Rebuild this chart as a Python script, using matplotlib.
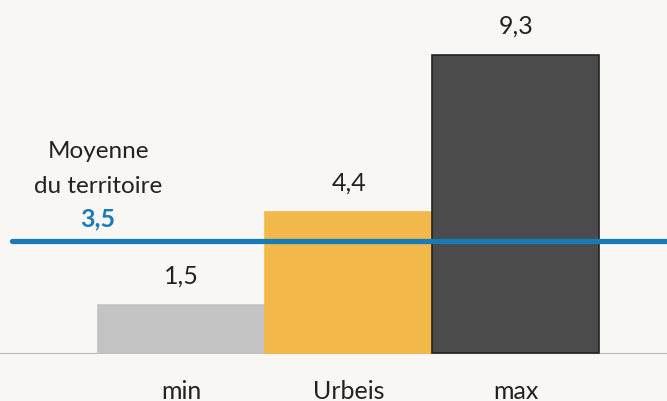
import matplotlib.pyplot as plt

categories = ['min', 'Urbeis', 'max']
values = [1.5, 4.4, 9.3]
value_labels = ['1,5', '4,4', '9,3']
moyenne = 3.5
moyenne_label = '3,5'

colors = ['#c3c3c3', '#f3b84a', '#4b4b4b']
edges = ['#c3c3c3', '#f3b84a', '#222222']

plt.rcParams['font.family'] = ['Lato', 'DejaVu Sans']

fig = plt.figure(figsize=(6.67, 4.01), dpi=100, facecolor='#f8f7f4')
ax = fig.add_axes([0, 0, 1, 1])
ax.set_facecolor('#f8f7f4')

x = list(range(len(categories)))
ax.bar(x, values, width=1.0, color=colors, edgecolor=edges, linewidth=1.2, zorder=2)

# valeurs au-dessus des barres
for xi, v, lab in zip(x, values, value_labels):
    ax.text(xi, v + 0.55, lab, ha='center', va='bottom', fontsize=18, color='#222222')

# étiquettes des catégories sous la ligne de base
for xi, cat in zip(x, categories):
    ax.text(xi, -1.42, cat, ha='center', va='baseline', fontsize=18, color='#222222')

# ligne de base
ax.axhline(0, color='#bdbdbd', linewidth=0.8, zorder=1)

# moyenne du territoire
ax.plot([-1.015, 2.904], [moyenne, moyenne], color='#1a7ab8', linewidth=3.8,
        solid_capstyle='round', zorder=3)
ax.text(-0.5, 6.3, 'Moyenne', ha='center', va='center', fontsize=17.5, color='#222222')
ax.text(-0.5, 5.2, 'du territoire', ha='center', va='center', fontsize=17.5, color='#222222')
ax.text(-0.5, 4.2, moyenne_label, ha='center', va='center', fontsize=18,
        fontweight='bold', color='#1a7ab8')

ax.set_xlim(-1.087, 2.904)
ax.set_ylim(-1.498, 11.02)
ax.axis('off')

fig.savefig('out.png', dpi=100, facecolor=fig.get_facecolor())
